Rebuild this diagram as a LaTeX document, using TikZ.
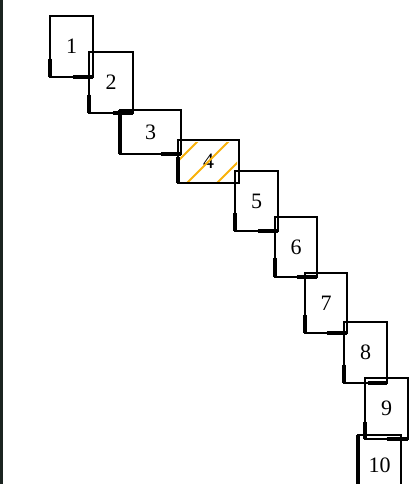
\documentclass[tikz,border=0pt]{standalone}
\usepackage{fontspec}
\setmainfont{Liberation Serif}
\usetikzlibrary{calc}
\definecolor{edgedark}{HTML}{1B2420}
\definecolor{hatchorange}{HTML}{F8B10A}
\begin{document}
\begin{tikzpicture}[x=1pt, y=-1pt, line width=2.5pt,
  card/.style={draw, rectangle, inner sep=0pt, outer sep=0pt, font=\fontsize{22}{25}\selectfont},
  heavy/.style={line width=3.6pt},
  hatch/.style={draw=hatchorange, line width=1.8pt}]
\useasboundingbox (0,0) rectangle (414,484);
\fill[edgedark] (0,0) rectangle (3,484);
\node[card, minimum width=43pt, minimum height=61pt] (n1) at (71.5,46.5) {1};
\node[card, minimum width=44pt, minimum height=61pt] (n2) at (111,82.5) {2};
\node[card, minimum width=61pt, minimum height=44pt] (n3) at (150.5,132) {3};
\node[card, minimum width=61pt, minimum height=43pt] (n4) at (208.5,161.5) {4};
\node[card, minimum width=43pt, minimum height=60pt] (n5) at (256.5,201) {5};
\node[card, minimum width=42pt, minimum height=60pt] (n6) at (296,247) {6};
\node[card, minimum width=42pt, minimum height=60pt] (n7) at (326,303) {7};
\node[card, minimum width=43pt, minimum height=61pt] (n8) at (365.5,352.5) {8};
\node[card, minimum width=43pt, minimum height=61pt] (n9) at (386.5,408.5) {9};
\node[card, minimum width=43pt, minimum height=61pt] (n10) at (379.5,465.5) {10};
% heavier lower-left strokes
\foreach \n/\l/\b in {1/0.3/0.47, 2/0.3/0.45, 3/1/0.33, 4/0.6/0, 5/0.3/0.47,
                      6/0.32/0.48, 7/0.3/0.47, 8/0.3/0.45, 9/0.28/0.5, 10/1/0} {
  \draw[heavy] ($(n\n.south west)!\l!(n\n.north west)$) -- (n\n.south west);
  \draw[heavy] ($(n\n.south east)!\b!(n\n.south west)$) -- (n\n.south east);
}
% hatching of box 4
\begin{scope}
\clip ($(n4.north west)+(2,2)$) rectangle ($(n4.south east)+(-2,-2)$);
\foreach \c in {339,370,400}
  \draw[hatch] ({\c-190},190) -- ({\c-130},130);
\end{scope}
\end{tikzpicture}
\end{document}
